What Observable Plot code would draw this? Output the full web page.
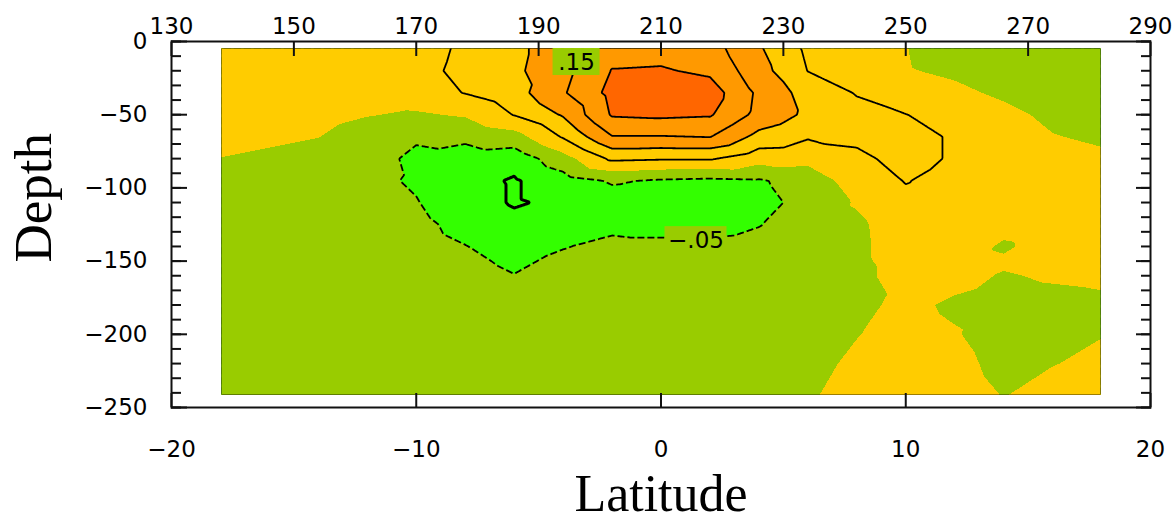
<!DOCTYPE html>
<html>
<head>
<meta charset="utf-8">
<script src="https://cdn.jsdelivr.net/npm/d3@7"></script>
<script src="https://cdn.jsdelivr.net/npm/@observablehq/plot@0.6"></script>
<style>
  html, body { margin: 0; padding: 0; background: #fff; }
</style>
</head>
<body>
<div id="chart"></div>
<script>
// ---- Grid coordinates ----
const latitudes = [-18, -16, -14, -12, -10, -8, -6, -4, -2, 0, 2, 4, 6, 8, 10, 12, 14, 16, 18];
const depths = [-4, -20, -35, -50, -65, -80, -95, -110, -125, -140, -150, -160, -180, -200, -220, -242];

// ---- Field values, one row per depth ----
const row004 = [0.04, 0.04, 0.04, 0.035, 0.03, 0.058, 0.085, 0.135, 0.18, 0.18, 0.17, 0.105, 0.04, 0.03, 0.001, -0.02, -0.035, -0.04, -0.045];
const row020 = [0.04, 0.04, 0.04, 0.035, 0.035, 0.062, 0.09, 0.135, 0.202, 0.205, 0.19, 0.12, 0.049, 0.035, 0.003, -0.008, -0.028, -0.035, -0.042];
const row035 = [0.035, 0.035, 0.03, 0.02, 0.025, 0.052, 0.08, 0.145, 0.215, 0.25, 0.225, 0.14, 0.08, 0.047, 0.02, 0.01, -0.008, -0.025, -0.035];
const row050 = [0.03, 0.025, 0.015, 0.002, -0.005, 0.005, 0.052, 0.105, 0.205, 0.21, 0.205, 0.135, 0.09, 0.065, 0.051, 0.03, 0.012, -0.01, -0.02];
const row065 = [0.015, 0.01, 0.001, -0.02, -0.045, -0.04, -0.02, 0.055, 0.148, 0.148, 0.152, 0.085, 0.055, 0.06, 0.065, 0.045, 0.025, 0.002, -0.007];
const row080 = [-0.001, -0.01, -0.02, -0.035, -0.058, -0.07, -0.08, -0.02, 0.06, 0.055, 0.055, 0.02, 0.015, 0.04, 0.065, 0.045, 0.03, 0.015, 0.008];
const row095 = [-0.02, -0.025, -0.03, -0.04, -0.055, -0.082, -0.105, -0.07, -0.045, -0.055, -0.06, -0.055, -0.03, 0.025, 0.052, 0.035, 0.03, 0.02, 0.015];
const row110 = [-0.025, -0.03, -0.033, -0.038, -0.048, -0.075, -0.105, -0.09, -0.07, -0.075, -0.075, -0.065, -0.035, 0.005, 0.04, 0.03, 0.02, 0.02, 0.015];
const row125 = [-0.025, -0.03, -0.032, -0.035, -0.04, -0.062, -0.085, -0.08, -0.06, -0.065, -0.065, -0.052, -0.03, -0.01, 0.03, 0.025, 0.01, 0.015, 0.012];
const row140 = [-0.025, -0.028, -0.03, -0.032, -0.035, -0.049, -0.065, -0.052, -0.04, -0.04, -0.04, -0.035, -0.025, -0.012, 0.028, 0.015, -0.004, 0.012, 0.01];
const row150 = [-0.022, -0.025, -0.028, -0.03, -0.032, -0.042, -0.057, -0.042, -0.033, -0.03, -0.03, -0.03, -0.022, -0.011, 0.022, 0.012, 0.004, 0.008, 0.008];
const row160 = [-0.02, -0.025, -0.026, -0.028, -0.03, -0.036, -0.049, -0.035, -0.03, -0.025, -0.025, -0.025, -0.02, -0.01, 0.015, 0.008, -0.002, 0.003, 0.005];
const row180 = [-0.02, -0.022, -0.024, -0.025, -0.026, -0.03, -0.038, -0.028, -0.025, -0.02, -0.02, -0.02, -0.015, -0.006, 0.006, -0.004, -0.01, -0.008, -0.005];
const row200 = [-0.02, -0.02, -0.022, -0.023, -0.023, -0.026, -0.03, -0.024, -0.022, -0.02, -0.02, -0.018, -0.012, -0.001, 0.009, 0.002, -0.012, -0.008, -0.001];
const row220 = [-0.02, -0.02, -0.02, -0.02, -0.021, -0.023, -0.025, -0.021, -0.02, -0.018, -0.018, -0.016, -0.008, 0.005, 0.012, 0.008, -0.008, -0.001, 0.006];
const row242 = [-0.02, -0.02, -0.02, -0.02, -0.02, -0.02, -0.02, -0.02, -0.02, -0.015, -0.015, -0.014, -0.003, 0.01, 0.015, 0.012, -0.0008, 0.01, 0.01];
const fieldRows = [row004, row020, row035, row050, row065, row080, row095, row110, row125, row140, row150, row160, row180, row200, row220, row242];

// ---- Shading levels and colours ----
const fillLevels = [-1, -0.05, 0, 0.1, 0.2];
const fillColors = ["#33FF00", "#99CC00", "#FFCC00", "#FF9900", "#FF6600"];
// ---- Contour line levels ----
const solidLevels = [0.05, 0.1, 0.15, 0.2];
const dashedLevels = [-0.05];
const thickLevels = [-0.1];

// ---- Contour labels ----
const labelLat = [-3.45, 1.43];
const labelDepth = [-14, -135];
const labelText = [".15", "\u2212.05"];

// ---- Axis ticks ----
const latTicks = [-20, -10, 0, 10, 20];
const depthTicks = [0, -50, -100, -150, -200, -250];
const depthMinorTicks = d3.range(0, -251, -10);
const lonTicks = [130, 150, 170, 190, 210, 230, 250, 270, 290];

// Build the sample table
const samples = [];
fieldRows.forEach((row, j) => row.forEach((v, i) => samples.push({lat: latitudes[i], depth: depths[j], v})));
const labels = labelText.map((t, i) => ({lat: labelLat[i], depth: labelDepth[i], text: t}));
// top axis: longitude 130..290 spans the same frame as latitude -20..20
const lonToLat = d3.scaleLinear().domain([130, 290]).range([-20, 20]);
const topTickPos = lonTicks.map(l => lonToLat(l));

const latExtent = d3.extent(latitudes);
const depthExtent = d3.extent(depths);

const rasterOpts = {
  x: "lat", y: "depth",
  interpolate: "barycentric", pixelSize: 1,
  x1: latExtent[0], x2: latExtent[1], y1: depthExtent[0], y2: depthExtent[1]
};

const tickFont = "DejaVu Sans";
const axisText = {fontSize: 23, label: null};
const tickStyle = {fill: "none", stroke: "#111", strokeWidth: 2, label: null};

const plot = Plot.plot({
  width: 1175,
  height: 522,
  marginLeft: 171,
  marginRight: 25,
  marginTop: 41,
  marginBottom: 115,
  x: {domain: [-20, 20], axis: null, label: null},
  y: {domain: [-250, 0], axis: null, label: null},
  color: {type: "ordinal", domain: fillLevels, range: fillColors},
  style: {fontFamily: tickFont, fontSize: "23px", color: "#000", background: "#fff", overflow: "visible"},
  marks: [
    Plot.contour(samples, {...rasterOpts, fill: "v", stroke: "none", thresholds: fillLevels, shapeRendering: "crispEdges"}),
    Plot.contour(samples, {...rasterOpts, value: "v", thresholds: solidLevels, fill: "none", stroke: "#000", strokeWidth: 1.8}),
    Plot.contour(samples, {...rasterOpts, value: "v", thresholds: dashedLevels, fill: "none", stroke: "#000", strokeWidth: 1.8, strokeDasharray: "7,3"}),
    Plot.contour(samples, {...rasterOpts, value: "v", thresholds: thickLevels, fill: "none", stroke: "#000", strokeWidth: 3}),
    // contour labels with boxes
    Plot.rect(labels.filter(d => d.text.length === 3), {x1: "lat", x2: "lat", y1: "depth", y2: "depth", fill: "#99CC00",
      insetLeft: -23.5, insetRight: -23.5, insetTop: -13.5, insetBottom: -13.5}),
    Plot.rect(labels.filter(d => d.text.length === 4), {x1: "lat", x2: "lat", y1: "depth", y2: "depth", fill: "#99CC00",
      insetLeft: -31, insetRight: -31, insetTop: -12.5, insetBottom: -12.5}),
    Plot.text(labels, {x: "lat", y: "depth", text: "text", fill: "#000", fontSize: 23, dy: 1}),
    // frame
    Plot.frame({stroke: "#111", strokeWidth: 2}),
    // left axis: labels + inward ticks
    Plot.axisY(depthTicks, {anchor: "left", tickSize: 0, tickPadding: 24, stroke: "none", ...axisText}),
    Plot.axisY(depthTicks, {anchor: "left", tickSize: 16, dx: 16, ...tickStyle}),
    Plot.axisY(depthMinorTicks, {anchor: "left", tickSize: 10, dx: 10, ...tickStyle}),
    // right axis ticks
    Plot.axisY(depthTicks, {anchor: "right", tickSize: 15, dx: -15, ...tickStyle}),
    Plot.axisY(depthMinorTicks, {anchor: "right", tickSize: 10, dx: -10, ...tickStyle}),
    // bottom axis
    Plot.axisX(latTicks, {anchor: "bottom", tickSize: 0, tickPadding: 33, stroke: "none", ...axisText}),
    Plot.axisX(latTicks, {anchor: "bottom", tickSize: 14, dy: -14, ...tickStyle}),
    // top axis (longitude)
    Plot.axisX(topTickPos, {anchor: "top", tickSize: 0, tickPadding: 8, stroke: "none", ...axisText,
      tickFormat: (d, i) => String(lonTicks[i])}),
    Plot.axisX(topTickPos, {anchor: "top", tickSize: 14, dy: 14, ...tickStyle}),
    // axis titles
    Plot.text(["Depth"], {frameAnchor: "left", rotate: -90, dx: -121, dy: 38, lineAnchor: "bottom",
      fontFamily: "Liberation Serif", fontSize: 53, fill: "#000"}),
    Plot.text(["Latitude"], {frameAnchor: "bottom", dy: 103, lineAnchor: "bottom",
      fontFamily: "Liberation Serif", fontSize: 52, fill: "#000"})
  ]
});

// Clip the contour layers to the data rectangle (hides edge seams and lines along the border)
(function clipContours() {
  const sx = plot.scale("x"), sy = plot.scale("y");
  const svg = d3.select(plot);
  const defs = svg.insert("defs", ":first-child");
  function addClip(id, pad) {
    const xa = sx.apply(latExtent[0]) + pad, xb = sx.apply(latExtent[1]) - pad;
    const ya = sy.apply(depthExtent[1]) + pad, yb = sy.apply(depthExtent[0]) - pad;
    defs.append("clipPath").attr("id", id)
      .append("rect").attr("x", xa).attr("y", ya).attr("width", xb - xa).attr("height", yb - ya);
  }
  addClip("fillclip", 0.8);
  addClip("lineclip", 1.2);
  const groups = plot.querySelectorAll('g[aria-label="contour"]');
  groups.forEach((g, i) => g.setAttribute("clip-path", i === 0 ? "url(#fillclip)" : "url(#lineclip)"));
})();

document.getElementById("chart").appendChild(plot);
</script>
</body>
</html>
